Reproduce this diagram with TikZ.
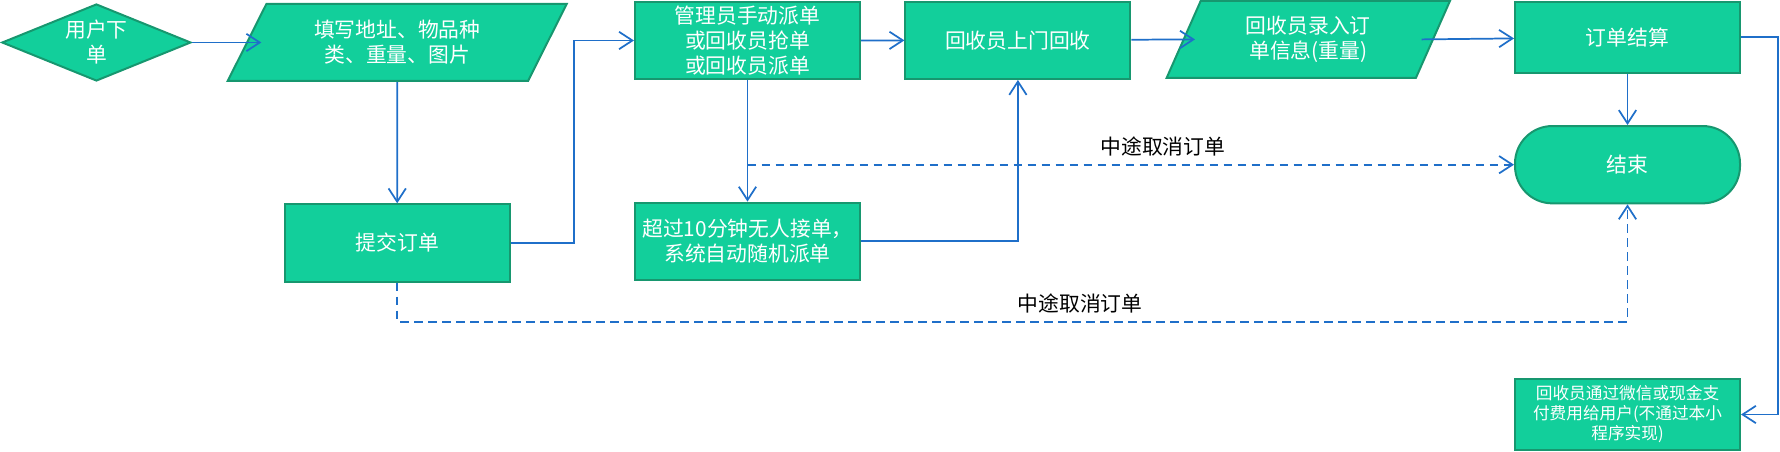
\documentclass[tikz,border=0pt]{standalone}
\usepackage{fontspec}
\setmainfont{Noto Sans CJK SC}
\usepackage{tikz}
\usetikzlibrary{arrows.meta,positioning,shapes.geometric}

\definecolor{boxfill}{HTML}{12CF9B}
\definecolor{boxline}{HTML}{17976F}
\definecolor{flowline}{HTML}{1F6FC9}

\begin{document}
\begin{tikzpicture}[x=0.75pt,y=-0.75pt,line width=1.3pt,
	>={Straight Barb[length=10pt,width=13pt]}]
	\tikzset{
		blk/.style={draw=boxline,fill=boxfill,line width=1.5pt,text=white,inner sep=0pt,align=center,
			font=\fontsize{15.6}{18.75}\selectfont},
		proc/.style={blk,rectangle,minimum width=168.75pt,minimum height=58pt},
		io/.style={blk,trapezium,trapezium stretches body,minimum height=57.75pt},
		flow/.style={draw=flowline,->},
		cancel/.style={flow,dash pattern=on 6.5pt off 4pt},
		note/.style={font=\fontsize{15.6}{18.75}\selectfont,inner sep=0pt,above=6pt}
	}
	\useasboundingbox (0,0) rectangle (1780,452);

	%% top row
	\node[blk,diamond,aspect=2.45,minimum width=141.75pt,minimum height=57.75pt] (order) at (96.4,42.5) {用户下\\单};
	\node[io,trapezium left angle=48.8,trapezium right angle=131.2,minimum width=254.25pt] (fill) at (397.2,42.5) {填写地址、物品种\\类、重量、图片};
	\node[proc] (assign) at (747.5,40.5) {管理员手动派单\\或回收员抢单\\或回收员派单};
	\node[proc] (visit) at (1017.9,40.3) {回收员上门回收};
	\node[io,trapezium left angle=53.8,trapezium right angle=126.2,minimum width=212.5pt] (record) at (1308.3,39.4) {回收员录入订\\单信息(重量)};
	\node[proc,minimum height=53.25pt] (settle) at (1627.5,37.2) {订单结算};

	%% lower nodes
	\node[proc] (submit) at (397.2,243) {提交订单};
	\node[proc] (auto) at (747.5,241.3) {超过10分钟无人接单，\\系统自动随机派单};
	\node[proc,rounded corners=28pt] (finish) at (1627.5,164.7) {结束};
	\node[proc,minimum height=53.25pt,font=\fontsize{12.5}{15}\selectfont] (pay) at (1627.5,414.5) {回收员通过微信或现金支\\付费用给用户(不通过本小\\程序实现)};

	\path[flow]
		(order) edge ([xshift=-101.9pt]fill.center)
		(fill) edge (submit)
		(assign) edge (visit)
		(assign) edge (auto)
		(visit) edge ([xshift=-85pt]record.center)
		(settle) edge (finish);

	\draw[flow] ([xshift=85pt]record.center) -- (settle);
	\draw[flow] (submit.east) -- ++(63,0) |- (assign.west);
	\draw[flow] (auto.east) -| (visit.south);
	\draw[flow] (settle.east) -- ++(36.7,0) |- (pay.east);

	%% cancelled orders
	\coordinate (fork) at (assign |- finish);
	\draw[cancel] (fork) -- (finish) node[note,pos=0.542] (cancel1) {中途取消订单};
	\draw[cancel] (submit.south) -- ++(0,39) coordinate (bend) -- (bend -| finish.south)
		node[note,pos=0.555] (cancel2) {中途取消订单} -- (finish.south);
\end{tikzpicture}
\end{document}
